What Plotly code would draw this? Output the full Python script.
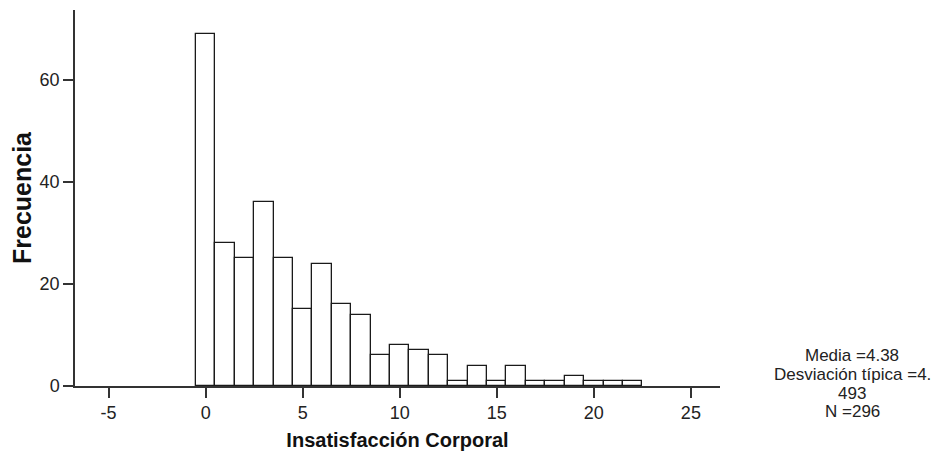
import plotly.graph_objects as go

values = list(range(0, 23))
freqs = [69, 28, 25, 36, 25, 15, 24, 16, 14, 6, 8, 7, 6, 1, 4, 1, 4, 1, 1, 2, 1, 1, 1]
x_ticks = [-5, 0, 5, 10, 15, 20, 25]
x_tick_labels = ["-5", "0", "5", "10", "15", "20", "25"]
y_ticks = [0, 20, 40, 60]
y_tick_labels = ["0", "20", "40", "60"]
stats_lines = ["Media =4.38", "Desviación típica =4.", "493", "N =296"]

FONT = "Liberation Sans, Arial, sans-serif"

# plot area geometry (pixels)
L, R, T, B = 75, 221, 10, 65
W, H = 941, 451
PW, PH = W - L - R, H - T - B

fig = go.Figure()
fig.add_trace(go.Bar(
    x=values, y=freqs, width=1,
    marker=dict(color="white", line=dict(color="#1a1a1a", width=1.3)),
    showlegend=False, hoverinfo="x+y",
))

fig.update_layout(
    width=W, height=H,
    margin=dict(l=L, r=R, t=T, b=B, autoexpand=False),
    paper_bgcolor="white", plot_bgcolor="white",
    font=dict(family=FONT, size=18, color="#222"),
    bargap=0,
    xaxis=dict(
        range=[-6.73, 26.5], tickvals=x_ticks, ticktext=x_tick_labels,
        ticks="outside", ticklen=10,
        tickwidth=1.5, tickcolor="#333", showline=True, linecolor="#333",
        linewidth=1.5, showgrid=False, zeroline=False, automargin=False,
        tickfont=dict(family=FONT, size=18, color="#222"),
        title=dict(text="<b>Insatisfacción Corporal</b>", standoff=12,
                   font=dict(family=FONT, size=20, color="#111")),
    ),
    yaxis=dict(
        range=[0, 73.7], tickvals=y_ticks, ticktext=y_tick_labels,
        ticks="outside", ticklen=10,
        tickwidth=1.5, tickcolor="#333", showline=True, linecolor="#333",
        linewidth=1.5, showgrid=False, zeroline=False, automargin=False,
        tickfont=dict(family=FONT, size=18, color="#222"),
        title=dict(text="<b>Frecuencia</b>", standoff=1,
                   font=dict(family=FONT, size=25, color="#111")),
    ),
)

line_y_px = [355, 374, 393, 412]
for txt, py in zip(stats_lines, line_y_px):
    fig.add_annotation(
        xref="paper", yref="paper", x=(852 - L) / PW, y=(H - B - py) / PH,
        text=txt, showarrow=False, align="center",
        xanchor="center", yanchor="middle",
        font=dict(family=FONT, size=17, color="#222"),
    )

fig.write_html("out.html")
